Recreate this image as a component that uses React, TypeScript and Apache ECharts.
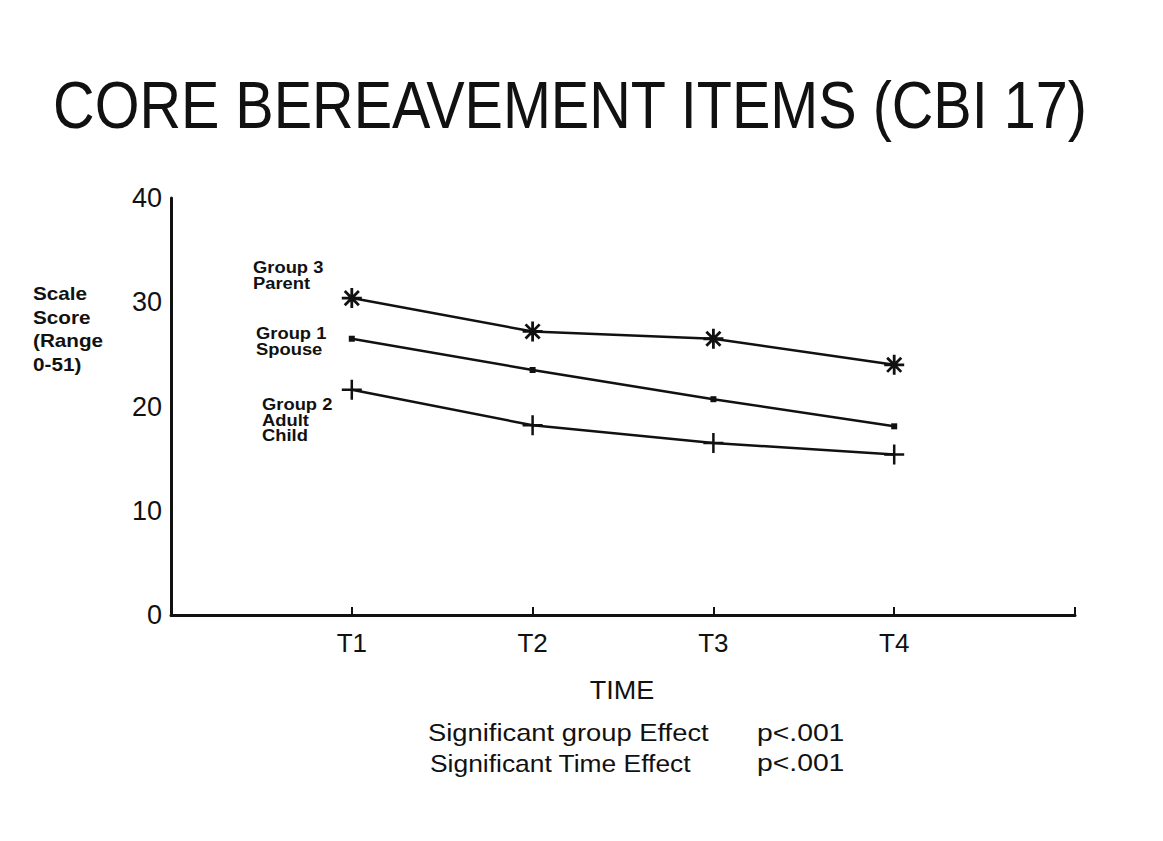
import React, { useEffect, useRef } from "react";
import * as echarts from "echarts";

const timePoints = ["T1", "T2", "T3", "T4"];
const parentScores = [30.4, 27.2, 26.5, 24.0];
const spouseScores = [26.5, 23.5, 20.7, 18.1];
const adultChildScores = [21.6, 18.2, 16.5, 15.4];
const yTicks = [0, 10, 20, 30, 40];

const FONT = "'Liberation Sans', Arial, Helvetica, sans-serif";
const INK = "#111";

const toPairs = (vals: number[]) => vals.map((v, i) => [i + 1, v]);

const ASTERISK =
  "path://M10,0L10,20M0,10L20,10M2.93,2.93L17.07,17.07M2.93,17.07L17.07,2.93";
const PLUS = "path://M0,10L20,10M10,0L10,20";

export default function App() {
  const ref = useRef<HTMLDivElement>(null);

  useEffect(() => {
    if (!ref.current) return;
    const chart = echarts.init(ref.current, undefined, { renderer: "svg" });

    const txt = (
      text: string,
      x: number,
      y: number,
      size: number,
      opts: any = {}
    ) => ({
      type: "text",
      x,
      y,
      scaleX: opts.scaleX ?? 1,
      style: {
        text,
        x: 0,
        y: 0,
        fill: INK,
        font: `${opts.weight ?? "normal"} ${size}px ${FONT}`,
        align: opts.align ?? "left",
        verticalAlign: opts.va ?? "middle",
        lineHeight: opts.lineHeight ?? size,
      },
    });

    chart.setOption({
      animation: false,
      backgroundColor: "#fff",
      grid: { left: 171, right: 88, top: 198, bottom: 226 },
      xAxis: {
        type: "value",
        min: 0,
        max: 5,
        interval: 1,
        axisLine: { show: true, lineStyle: { color: INK, width: 3 } },
        axisTick: { show: true, inside: true, length: 8, lineStyle: { color: INK, width: 2 } },
        splitLine: { show: false },
        axisLabel: {
          margin: 15,
          fontSize: 26,
          fontFamily: FONT,
          color: INK,
          formatter: (v: number) => (v >= 1 && v <= timePoints.length ? timePoints[v - 1] : ""),
        },
      },
      yAxis: {
        type: "value",
        min: yTicks[0],
        max: yTicks[yTicks.length - 1],
        interval: 10,
        axisLine: { show: true, lineStyle: { color: INK, width: 3 } },
        axisTick: { show: false },
        splitLine: { show: false },
        axisLabel: { margin: 9, fontSize: 27, fontFamily: FONT, color: INK },
      },
      series: [
        {
          name: "Group 3 Parent",
          type: "line",
          data: toPairs(parentScores),
          symbol: ASTERISK,
          symbolSize: 20,
          lineStyle: { color: INK, width: 2.5 },
          itemStyle: { color: INK, borderColor: INK, borderWidth: 2.8 },
        },
        {
          name: "Group 1 Spouse",
          type: "line",
          data: toPairs(spouseScores),
          symbol: "rect",
          symbolSize: 6,
          lineStyle: { color: INK, width: 2.5 },
          itemStyle: { color: INK },
        },
        {
          name: "Group 2 Adult Child",
          type: "line",
          data: toPairs(adultChildScores),
          symbol: PLUS,
          symbolSize: 20,
          lineStyle: { color: INK, width: 2.5 },
          itemStyle: { color: INK, borderColor: INK, borderWidth: 2.5 },
        },
      ],
      graphic: [
        txt("CORE BEREAVEMENT ITEMS (CBI 17)", 570, 105, 66, { align: "center", scaleX: 0.872 }),
        txt("Scale\nScore\n(Range\n0-51)", 33, 329, 18, {
          weight: "bold",
          lineHeight: 24,
          scaleX: 1.15,
        }),
        txt("Group 3\nParent", 253, 275, 17, { weight: "bold", lineHeight: 15.5, scaleX: 1.08 }),
        txt("Group 1\nSpouse", 256, 341, 17, { weight: "bold", lineHeight: 15.5, scaleX: 1.08 }),
        txt("Group 2\nAdult\nChild", 262, 420, 17, { weight: "bold", lineHeight: 15.5, scaleX: 1.08 }),
        txt("TIME", 622, 690, 25, { align: "center", scaleX: 1.08 }),
        txt("Significant group Effect", 428, 733, 24, { scaleX: 1.14 }),
        txt("p<.001", 757, 733, 24, { scaleX: 1.18 }),
        txt("Significant Time Effect", 430, 763, 24, { scaleX: 1.1 }),
        txt("p<.001", 757, 763, 24, { scaleX: 1.18 }),
      ],
    });

    return () => chart.dispose();
  }, []);

  return (
    <div
      ref={ref}
      style={{ position: "absolute", left: 0, top: 0, width: 1163, height: 841 }}
    />
  );
}
